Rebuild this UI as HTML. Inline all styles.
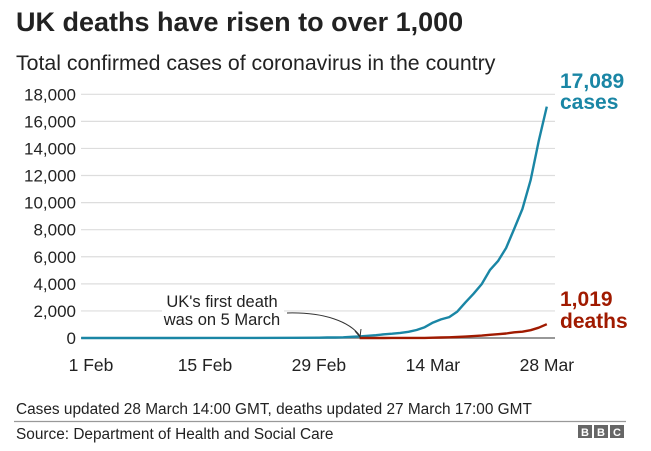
<!DOCTYPE html>
<html><head><meta charset="utf-8"><style>
body{margin:0;background:#fff;width:651px;height:451px;overflow:hidden;font-family:"Liberation Sans",Arial,sans-serif}
svg{display:block}
</style></head><body>
<svg width="651" height="451">
<text x="16" y="31" font-size="27" font-weight="bold" fill="#222">UK deaths have risen to over 1,000</text>
<text x="16" y="70" font-size="21.3" fill="#222">Total confirmed cases of coronavirus in the country</text>
<g id="grid"></g><g id="series"></g>
<text x="560" y="88" font-size="21" font-weight="bold" fill="#1a86a5">17,089</text>
<text x="560" y="109" font-size="21" font-weight="bold" fill="#1a86a5">cases</text>
<text x="560" y="306" font-size="21" font-weight="bold" fill="#a01a00">1,019</text>
<text x="560" y="328" font-size="21" font-weight="bold" fill="#a01a00">deaths</text>
<g>
<rect x="162" y="290" width="122" height="40" fill="#fff"/>
<text x="222" y="307" font-size="16.5" fill="#222" text-anchor="middle">UK's first death</text>
<text x="222" y="325" font-size="16.5" fill="#222" text-anchor="middle">was on 5 March</text>
<path d="M287,313 C325,312 350,322 360,336" fill="none" stroke="#333" stroke-width="1"/>
<path d="M355,331 L360,337 L361,329" fill="none" stroke="#333" stroke-width="1"/>
</g>
<text x="16" y="414" font-size="15.4" fill="#222">Cases updated 28 March 14:00 GMT, deaths updated 27 March 17:00 GMT</text>
<line x1="14" y1="421.5" x2="626" y2="421.5" stroke="#999" stroke-width="1.2"/>
<text x="16" y="439" font-size="15.4" fill="#222">Source: Department of Health and Social Care</text>
<g>
<rect x="578" y="425" width="14" height="13" fill="#666"/><rect x="594" y="425" width="14" height="13" fill="#666"/><rect x="610" y="425" width="14" height="13" fill="#666"/>
<text x="585" y="436" font-size="11" font-weight="bold" fill="#fff" text-anchor="middle">B</text>
<text x="601" y="436" font-size="11" font-weight="bold" fill="#fff" text-anchor="middle">B</text>
<text x="617" y="436" font-size="11" font-weight="bold" fill="#fff" text-anchor="middle">C</text>
</g>
</svg>
<script>
const yTicks=[0,2000,4000,6000,8000,10000,12000,14000,16000,18000];
const yTickLabels=["0","2,000","4,000","6,000","8,000","10,000","12,000","14,000","16,000","18,000"];
const xTickDays=[0,14,28,42,56];
const xTickLabels=["1 Feb","15 Feb","29 Feb","14 Mar","28 Mar"];
const caseDays=[-1.2,0,5,10,15,20,25,28,29,30,31,32,33,34,35,36,37,38,39,40,41,42,43,44,45,46,47,48,49,50,51,52,53,54,55,56];
const caseValues=[2,2,2,3,9,9,13,20,36,40,51,85,115,163,206,273,321,373,456,590,798,1140,1372,1543,1950,2626,3269,3983,5018,5683,6650,8077,9529,11658,14543,17089];
const deathDays=[33,34,35,36,37,38,39,40,41,42,43,44,45,46,47,48,49,50,51,52,53,54,55,56];
const deathValues=[1,2,2,3,4,6,8,8,10,21,35,55,71,104,144,177,233,281,335,422,465,578,759,1019];
const NS="http://www.w3.org/2000/svg";
const X=d=>91+d*8.14, Y=v=>338-v*(243.7/18000);
const grid=document.getElementById('grid'), ser=document.getElementById('series');
yTicks.forEach((t,i)=>{
 const l=document.createElementNS(NS,'line');
 l.setAttribute('x1',81);l.setAttribute('x2',555);l.setAttribute('y1',Y(t));l.setAttribute('y2',Y(t));
 l.setAttribute('stroke',t===0?'#777':'#ddd');l.setAttribute('stroke-width',t===0?1.5:1.2);
 
 
 grid.appendChild(l);
 const tx=document.createElementNS(NS,'text');
 tx.setAttribute('x',76);tx.setAttribute('y',Y(t)+6);tx.setAttribute('text-anchor','end');tx.setAttribute('font-size','17');tx.setAttribute('fill','#222');
 tx.textContent=yTickLabels[i];
 
 
 grid.appendChild(tx);
});
xTickDays.forEach((d,i)=>{
 const tx=document.createElementNS(NS,'text');
 tx.setAttribute('x',X(d));tx.setAttribute('y',371);tx.setAttribute('text-anchor','middle');tx.setAttribute('font-size','17.5');tx.setAttribute('fill','#222');
 tx.textContent=xTickLabels[i];
 
 
 grid.appendChild(tx);
});
function line(days,vals,color,name){
 const p=document.createElementNS(NS,'path');
 p.setAttribute('d',days.map((d,i)=>(i?'L':'M')+X(d).toFixed(1)+','+Y(vals[i]).toFixed(1)).join(''));
 p.setAttribute('fill','none');p.setAttribute('stroke',color);p.setAttribute('stroke-width','2.4');p.setAttribute('stroke-linejoin','round');
 
 
 ser.appendChild(p);
}
line(caseDays,caseValues,'#1a86a5','cases-line');
line(deathDays,deathValues,'#a01a00','deaths-line');
</script>
</body></html>
